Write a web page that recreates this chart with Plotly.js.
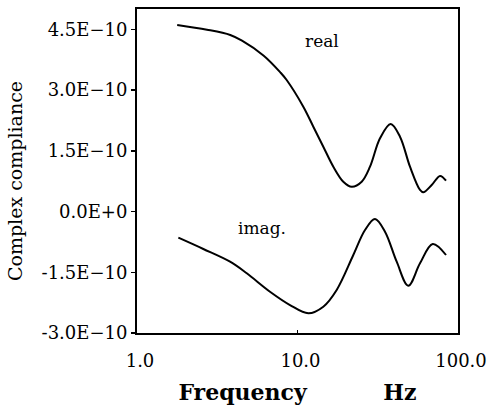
<!DOCTYPE html>
<html>
<head>
<meta charset="utf-8">
<script src="https://cdn.plot.ly/plotly-3.0.1.min.js"></script>
<style>html,body{margin:0;padding:0;background:#fff;}#chart{width:490px;height:405px;}</style>
</head>
<body>
<div id="chart"></div>
<script>
// Frequency (Hz) and complex compliance values
var realFreq = [1.78, 2.73, 3.81, 4.51, 6.16, 7.81, 8.56, 10.87, 12.55, 14.48, 16.72, 19.29, 21.77, 25.12, 28.3, 32.66, 38.08, 43.51, 50.22, 57.98, 60.78, 68.57, 77.25, 84.2];
var realVal  = [4.605e-10, 4.489e-10, 4.358e-10, 4.217e-10, 3.847e-10, 3.437e-10, 3.247e-10, 2.588e-10, 2.094e-10, 1.6e-10, 1.106e-10, 0.736e-10, 0.612e-10, 0.736e-10, 1.106e-10, 1.807e-10, 2.16e-10, 1.847e-10, 1.106e-10, 0.531e-10, 0.474e-10, 0.654e-10, 0.877e-10, 0.76e-10];
var imagFreq = [1.81, 2.59, 3.8, 4.83, 6.74, 8.98, 11.68, 14.48, 17.54, 22.27, 26.34, 30.4, 35.09, 41.5, 49.01, 57.98, 69.57, 84.2];
var imagVal  = [-0.647e-10, -0.926e-10, -1.24e-10, -1.526e-10, -1.98e-10, -2.309e-10, -2.514e-10, -2.351e-10, -1.938e-10, -1.074e-10, -0.457e-10, -0.185e-10, -0.499e-10, -1.24e-10, -1.832e-10, -1.279e-10, -0.802e-10, -1.074e-10];

var yTickVals = [4.5e-10, 3.0e-10, 1.5e-10, 0, -1.5e-10, -3.0e-10];
var yTickText = ['4.5E\u221210', '3.0E\u221210', '1.5E\u221210', '0.0E+0', '-1.5E\u221210', '-3.0E\u221210'];
var xTickVals = [1, 10, 100];
var xTickText = ['1.0', '10.0', '100.0'];

var lineStyle = {color: '#000', width: 2, shape: 'spline', smoothing: 1};
var traces = [
  {x: realFreq, y: realVal, mode: 'lines', line: lineStyle, name: 'real', hoverinfo: 'skip'},
  {x: imagFreq, y: imagVal, mode: 'lines', line: lineStyle, name: 'imag.', hoverinfo: 'skip'}
];

var serif = 'DejaVu Serif';
var layout = {
  width: 490, height: 405,
  margin: {l: 137, r: 32, t: 9, b: 72},
  paper_bgcolor: '#fff', plot_bgcolor: '#fff',
  showlegend: false,
  font: {family: serif, size: 18, color: '#000'},
  xaxis: {
    type: 'log', range: [0, 2],
    tickvals: xTickVals, ticktext: xTickText,
    ticks: 'inside', ticklen: 3, tickwidth: 1.5, tickcolor: '#000',
    ticklabelstandoff: 10, ticklabelshift: 3,
    showgrid: false, zeroline: false,
    showline: true, mirror: true, linecolor: '#000', linewidth: 2,
    tickfont: {family: serif, size: 18, color: '#000'},
    title: {text: 'Frequency\u00a0\u00a0\u00a0\u00a0\u00a0\u00a0\u00a0\u00a0\u00a0\u00a0Hz', font: {family: serif, size: 22, color: '#000', weight: 'bold'}, standoff: 16}
  },
  yaxis: {
    range: [-3.0e-10, 5.0e-10],
    tickvals: yTickVals, ticktext: yTickText,
    ticks: 'outside', ticklen: 4, tickwidth: 1.5, tickcolor: '#000',
    showgrid: false, zeroline: false,
    showline: true, mirror: true, linecolor: '#000', linewidth: 2,
    tickfont: {family: serif, size: 18, color: '#000'}
  },
  annotations: [
    {xref: 'paper', yref: 'paper', x: -0.38, y: 0.469, text: 'Complex compliance', textangle: -90, showarrow: false, font: {family: serif, size: 19, color: '#000'}, xanchor: 'center', yanchor: 'middle'},
    {xref: 'x', yref: 'y', x: 1.1526, y: 4.21e-10, text: 'real', showarrow: false, font: {family: serif, size: 17, color: '#000'}},
    {xref: 'x', yref: 'y', x: 0.779, y: -0.41e-10, text: 'imag.', showarrow: false, font: {family: serif, size: 17, color: '#000'}}
  ]
};

Plotly.newPlot('chart', traces, layout, {staticPlot: true, displayModeBar: false});
</script>
</body>
</html>
